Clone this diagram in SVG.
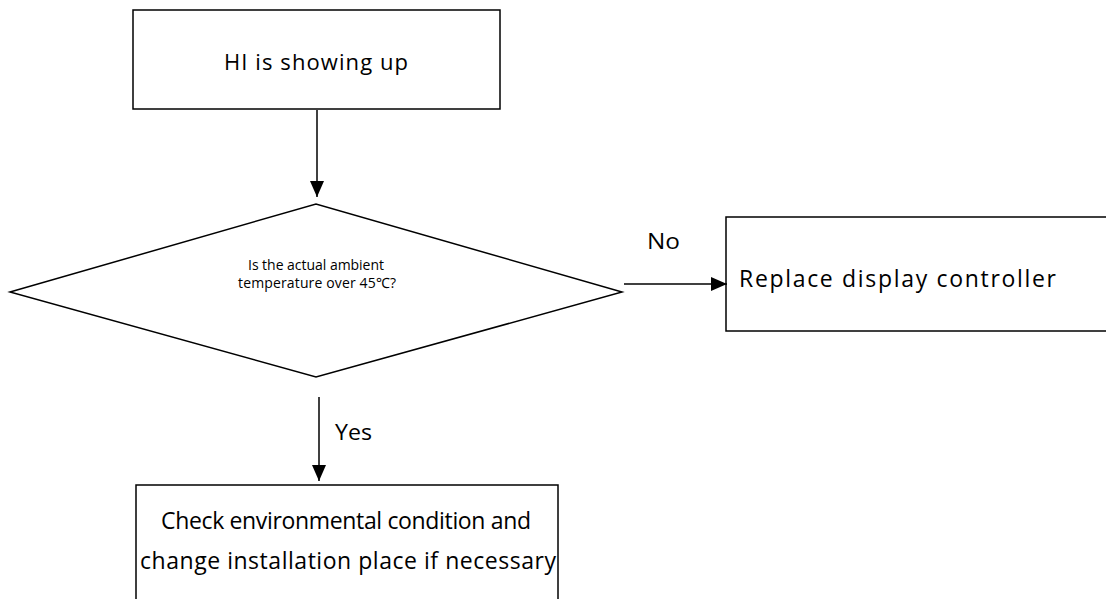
<svg xmlns="http://www.w3.org/2000/svg" width="1106" height="599" viewBox="0 0 1106 599">
<style>
.box{fill:#fff;stroke:#000;stroke-width:1.5}
.ln{fill:none;stroke:#000;stroke-width:1.5}
.t{font-family:"Open Sans","Noto Sans",sans-serif;fill:#000}
</style>
<defs>
<marker id="ah2" viewBox="0 0 16 14" refX="16" refY="7" markerWidth="16" markerHeight="14" markerUnits="userSpaceOnUse" orient="auto"><path d="M0,0 L16,7 L0,14 z" fill="#000"/></marker>
</defs>
<rect width="1106" height="599" fill="#fff"/>
<g id="n1">
<rect class="box" x="133" y="10" width="367" height="99"/>
<text class="t" x="224" y="70" font-size="22" textLength="184" lengthAdjust="spacing">HI is showing up</text>
</g>
<g id="n2">
<polygon class="box" points="10,292 316,204 622,292 316,377"/>
<text class="t" x="248" y="270" font-size="14" textLength="136" lengthAdjust="spacing">Is the actual ambient</text>
<text class="t" x="238" y="288" font-size="14" textLength="158" lengthAdjust="spacing">temperature over 45℃?</text>
</g>
<g id="n3">
<rect class="box" x="726" y="217" width="400" height="114"/>
<text class="t" x="739" y="287" font-size="23" textLength="317" lengthAdjust="spacing">Replace display controller</text>
</g>
<g id="n4">
<rect class="box" x="136" y="485" width="422" height="130"/>
<text class="t" x="161" y="529" font-size="23" textLength="370" lengthAdjust="spacing">Check environmental condition and</text>
<text class="t" x="140" y="569" font-size="23" textLength="416" lengthAdjust="spacing">change installation place if necessary</text>
</g>
<g id="connectors">
<line class="ln" x1="317" y1="110" x2="317" y2="197" marker-end="url(#ah2)"/>
<line class="ln" x1="624" y1="284" x2="727" y2="284" marker-end="url(#ah2)"/>
<line class="ln" x1="319" y1="397" x2="319" y2="481" marker-end="url(#ah2)"/>
<text class="t" x="647" y="249" font-size="22" textLength="33" lengthAdjust="spacingAndGlyphs">No</text>
<text class="t" x="335" y="440" font-size="22" textLength="37" lengthAdjust="spacingAndGlyphs">Yes</text>
</g>
</svg>
